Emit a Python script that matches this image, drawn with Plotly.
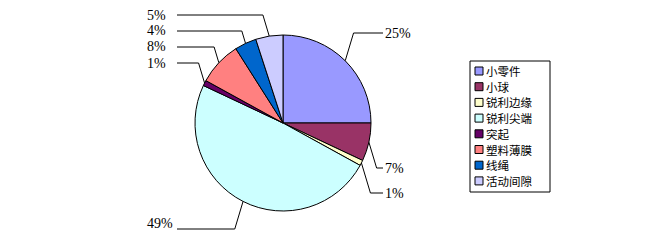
import math
import plotly.graph_objects as go

W, H = 653, 246
categories = ["小零件", "小球", "锐利边缘", "锐利尖端", "突起", "塑料薄膜", "线绳", "活动间隙"]
values = [25, 7, 1, 49, 1, 8, 4, 5]
colors = ["#9999FF", "#993366", "#FFFFCC", "#CCFFFF", "#660066", "#FF8080", "#0066CC", "#CCCCFF"]
label_texts = ["25%", "7%", "1%", "49%", "1%", "8%", "4%", "5%"]

# layout for leader labels (pixel y of leader line, text offsets, side)
line_y = [33, 168, 193, 229, 63, 47, 31, 15]
text_dy = [0, 0, 0, -6, 0, 0, 0, 0]
text_dx = [0, 0, 0, -2, -9, -9, -9, -9]
label_side = [1, 1, 1, -1, -1, -1, -1, -1]

cx, cy, r = 283, 123, 88


def px(x):
    return x / W


def py(y):
    return 1 - y / H


fig = go.Figure(go.Pie(
    labels=categories, values=values, sort=False, direction="clockwise", rotation=0,
    marker=dict(colors=colors, line=dict(color="#000000", width=1)),
    textinfo="none", hoverinfo="label+percent", showlegend=False,
    domain=dict(x=[px(cx - r), px(cx + r)], y=[py(cy + r), py(cy - r)]),
))

total = sum(values)
cum = 0
shapes, annots = [], []
for i, v in enumerate(values):
    mid = (cum + v / 2) / total * 2 * math.pi
    cum += v
    ex, ey = cx + r * math.sin(mid), cy - r * math.cos(mid)
    ly = line_y[i]
    side = label_side[i]
    bx = ex + side * 0.3 * abs(ly - ey)
    endx = 383 if side > 0 else 177
    pts = [(ex, ey), (bx, ly), (endx, ly)]
    for (x0, y0), (x1, y1) in zip(pts[:-1], pts[1:]):
        shapes.append(dict(type="line", xref="paper", yref="paper",
                           x0=px(x0), y0=py(y0), x1=px(x1), y1=py(y1),
                           line=dict(color="#000000", width=1)))
    annots.append(dict(
        text=label_texts[i], xref="paper", yref="paper",
        x=px(endx + text_dx[i]), y=py(ly + text_dy[i]),
        xanchor="left" if side > 0 else "right", yanchor="middle", showarrow=False,
        font=dict(family="Liberation Serif", size=14, color="#000000")))

# legend (drawn manually, Excel style)
lg_x0, lg_y0, lg_x1, lg_y1 = 470, 61, 550, 192
shapes.append(dict(type="rect", xref="paper", yref="paper",
                   x0=px(lg_x0), y0=py(lg_y1), x1=px(lg_x1), y1=py(lg_y0),
                   line=dict(color="#000000", width=1), fillcolor="#FFFFFF"))
step = 15.7
for i, (name, col) in enumerate(zip(categories, colors)):
    yc = 71 + step * i
    shapes.append(dict(type="rect", xref="paper", yref="paper",
                       x0=px(475), y0=py(yc + 4), x1=px(483), y1=py(yc - 4),
                       line=dict(color="#000000", width=1), fillcolor=col))
    annots.append(dict(text=name, xref="paper", yref="paper", x=px(484), y=py(yc),
                       xanchor="left", yanchor="middle", showarrow=False,
                       font=dict(family="Noto Sans CJK SC", size=11.5, color="#000000")))

fig.update_layout(
    width=W, height=H, margin=dict(l=0, r=0, t=0, b=0),
    paper_bgcolor="#FFFFFF", plot_bgcolor="#FFFFFF",
    shapes=shapes, annotations=annots,
)
fig.write_html("out.html")
